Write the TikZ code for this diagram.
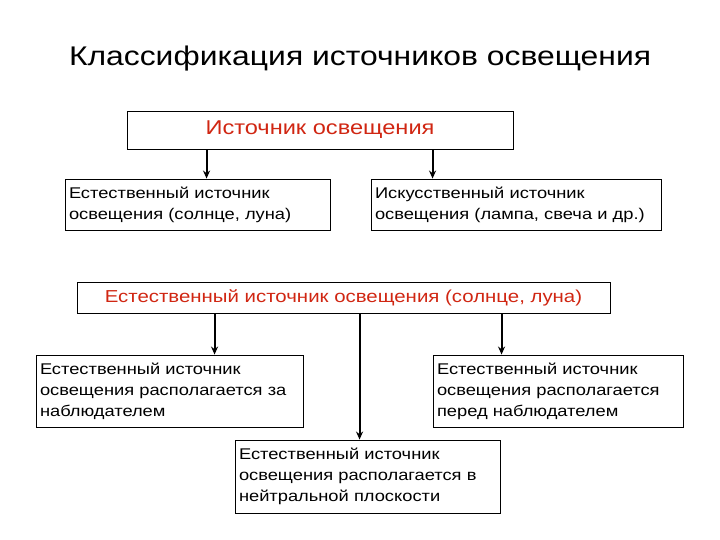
\documentclass[tikz,border=0pt]{standalone}
\usepackage{fontspec}
\setmainfont[FakeStretch=1.18]{Liberation Sans}
\usetikzlibrary{arrows.meta}
\definecolor{headred}{RGB}{208,38,18}

\tikzstyle{head}=[draw,line width=0.9pt,inner sep=0pt,text=headred]
\tikzstyle{leaf}=[draw,line width=0.9pt,inner xsep=4pt,inner ysep=0pt,align=left,font=\fontsize{15.5}{21}\selectfont]
\tikzstyle{link} = [draw,line width=2pt,-{Stealth[length=8pt,width=7pt]}]

\begin{document}
\begin{tikzpicture}[x=1pt,y=-1pt]
      \useasboundingbox (0,0) rectangle (720,540);
      % Title
      \node (title) at (360,59) {\fontsize{27}{32}\selectfont Классификация источников освещения};
      % First we draw the two header boxes
      \node[head,minimum width=386pt,minimum height=38pt,font=\fontsize{20}{24}\selectfont] (src) at (320,130) {Источник освещения};
      \node[head,minimum width=533pt,minimum height=31pt,font=\fontsize{17.3}{20}\selectfont] (sun) at (343.5,297.5) {Естественный источник освещения (солнце, луна)};
      % Then the boxes below them
      \foreach \pos/\name/\w/\h/\la in {{(197.5,204.5)/natural/257pt/51pt/{Естественный источник\\освещения (солнце, луна)}},
      {(516,204.5)/artificial/282pt/51pt/{Искусственный источник\\освещения (лампа, свеча и др.)}},
      {(169.5,391)/behind/259pt/72pt/{Естественный источник\\освещения располагается за\\наблюдателем}},
      {(558,391)/front/242pt/72pt/{Естественный источник\\освещения располагается\\перед наблюдателем}},
      {(367.5,476.5)/neutral/257pt/73pt/{Естественный источник\\освещения располагается в\\нейтральной плоскости}}}
            \node[leaf,text width=\w,minimum height=\h] (\name) at \pos {\la};
      % Connect boxes with arrows
      \foreach \source/\dest/\dx in {src/natural/142,src/artificial/62,sun/behind/179,sun/neutral/125,sun/front/69}
      \path[link] ([xshift=\dx]\dest.north west |- \source.south) -- ([xshift=\dx]\dest.north west);
\end{tikzpicture}
\end{document}
